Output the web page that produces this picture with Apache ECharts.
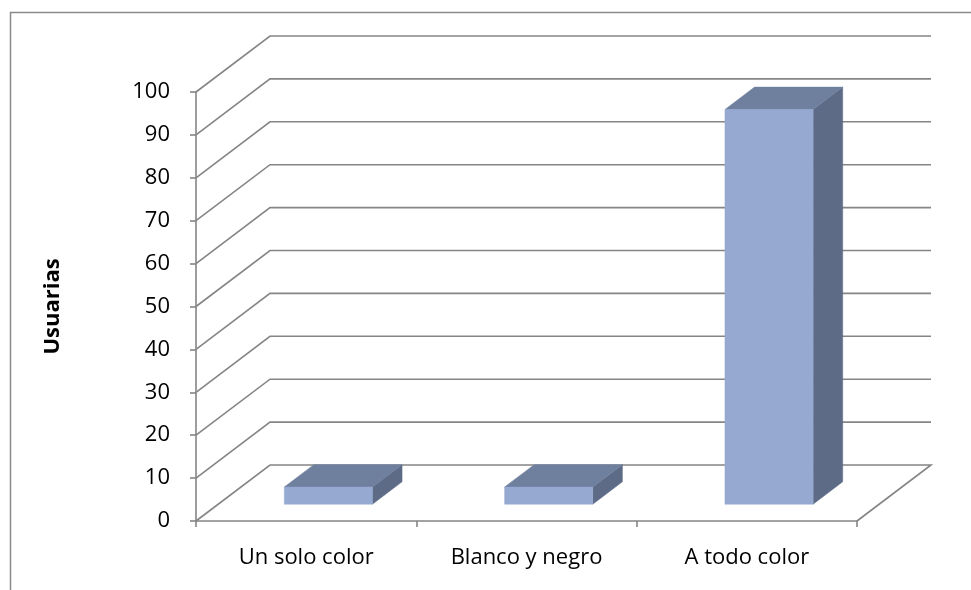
<!DOCTYPE html>
<html>
<head>
<meta charset="utf-8">
<script src="https://cdn.jsdelivr.net/npm/echarts@6/dist/echarts.min.js"></script>
<style>
  html, body { margin: 0; padding: 0; background: #ffffff; }
  #chart { width: 971px; height: 590px; }
</style>
</head>
<body>
<div id="chart"></div>
<script>
// Survey answers: how many users prefer each colour option
const categories = ['Un solo color', 'Blanco y negro', 'A todo color'];
const usuarias = [4, 4, 92];
const yTicks = [0, 10, 20, 30, 40, 50, 60, 70, 80, 90, 100];
const yAxisTitle = 'Usuarias';

// Oblique projection of the depth axis (pixels for the full floor depth)
const DX = 74;
const DY = -56;
const GRID_COLOR = '#858585';
const FONT = '"Open Sans", "Liberation Sans", sans-serif';

const chart = echarts.init(document.getElementById('chart'), null, { renderer: 'canvas' });

function renderWall(params, api) {
  const v = api.value(1);
  const p = api.coord([0, v]);
  const band = api.size([1, 0])[0];
  const xl = p[0] - band / 2;
  const xr = xl + band * categories.length;
  const y = p[1];
  const pts = [[xl, y], [xl + DX, y + DY], [xr + DX, y + DY]];
  if (v === 0) pts.push([xr, y]);
  return {
    type: 'polyline',
    shape: { points: pts },
    style: { stroke: GRID_COLOR, lineWidth: 1.6, fill: null }
  };
}

function renderBar(params, api) {
  const idx = api.value(0);
  const val = api.value(1);
  const base = api.coord([idx, 0]);
  const top = api.coord([idx, val]);
  const band = api.size([1, 0])[0];
  const w = band * 0.4;
  const f = 0.3, b = 0.7;
  const x0 = base[0] - w / 2 + f * DX;
  const x1 = x0 + w;
  const yb = base[1] + f * DY;
  const yt = top[1] + f * DY;
  const ddx = (b - f) * DX;
  const ddy = (b - f) * DY;
  return {
    type: 'group',
    children: [
      {
        type: 'polygon',
        shape: { points: [[x1, yb], [x1, yt], [x1 + ddx, yt + ddy], [x1 + ddx, yb + ddy]] },
        style: { fill: '#5D6B86', stroke: '#5D6B86', lineWidth: 0.5 }
      },
      {
        type: 'polygon',
        shape: { points: [[x0, yt], [x1, yt], [x1 + ddx, yt + ddy], [x0 + ddx, yt + ddy]] },
        style: { fill: '#6F7F9E', stroke: '#6F7F9E', lineWidth: 0.5 }
      },
      {
        type: 'rect',
        shape: { x: x0, y: yt, width: w, height: yb - yt },
        style: { fill: '#95A9D1', stroke: '#95A9D1', lineWidth: 0.5 }
      }
    ]
  };
}

chart.setOption({
  animation: false,
  backgroundColor: '#ffffff',
  graphic: [
    {
      type: 'rect',
      shape: { x: 10.5, y: 12.5, width: 1000, height: 620 },
      style: { fill: null, stroke: '#8A8A8A', lineWidth: 1.5 },
      silent: true
    }
  ],
  grid: { left: 196, top: 92, width: 661, height: 429 },
  xAxis: {
    type: 'category',
    data: categories,
    boundaryGap: true,
    axisLine: { show: true, lineStyle: { color: GRID_COLOR, width: 1.6 } },
    axisTick: { show: true, length: 6, interval: 0, lineStyle: { color: GRID_COLOR, width: 1.6 } },
    axisLabel: { color: '#000000', fontSize: 22, fontFamily: FONT, margin: 26, interval: 0 },
    splitLine: { show: false }
  },
  yAxis: {
    type: 'value',
    min: 0,
    max: 100,
    interval: 10,
    name: yAxisTitle,
    nameLocation: 'middle',
    nameRotate: 90,
    nameGap: 132,
    nameTextStyle: { color: '#000000', fontSize: 22, fontWeight: 'bold', fontFamily: FONT },
    axisLine: { show: true, lineStyle: { color: GRID_COLOR, width: 1.6 } },
    axisTick: { show: true, length: 6, lineStyle: { color: GRID_COLOR, width: 1.6 } },
    axisLabel: { color: '#000000', fontSize: 22, fontFamily: FONT, margin: 26 },
    splitLine: { show: false }
  },
  series: [
    {
      type: 'custom',
      name: 'walls',
      z: 1,
      silent: true,
      renderItem: renderWall,
      data: yTicks.map(function (v) { return [0, v]; })
    },
    {
      type: 'custom',
      name: yAxisTitle,
      z: 2,
      renderItem: renderBar,
      encode: { x: 0, y: 1 },
      data: usuarias.map(function (v, i) { return [i, v]; })
    }
  ]
});
</script>
</body>
</html>
